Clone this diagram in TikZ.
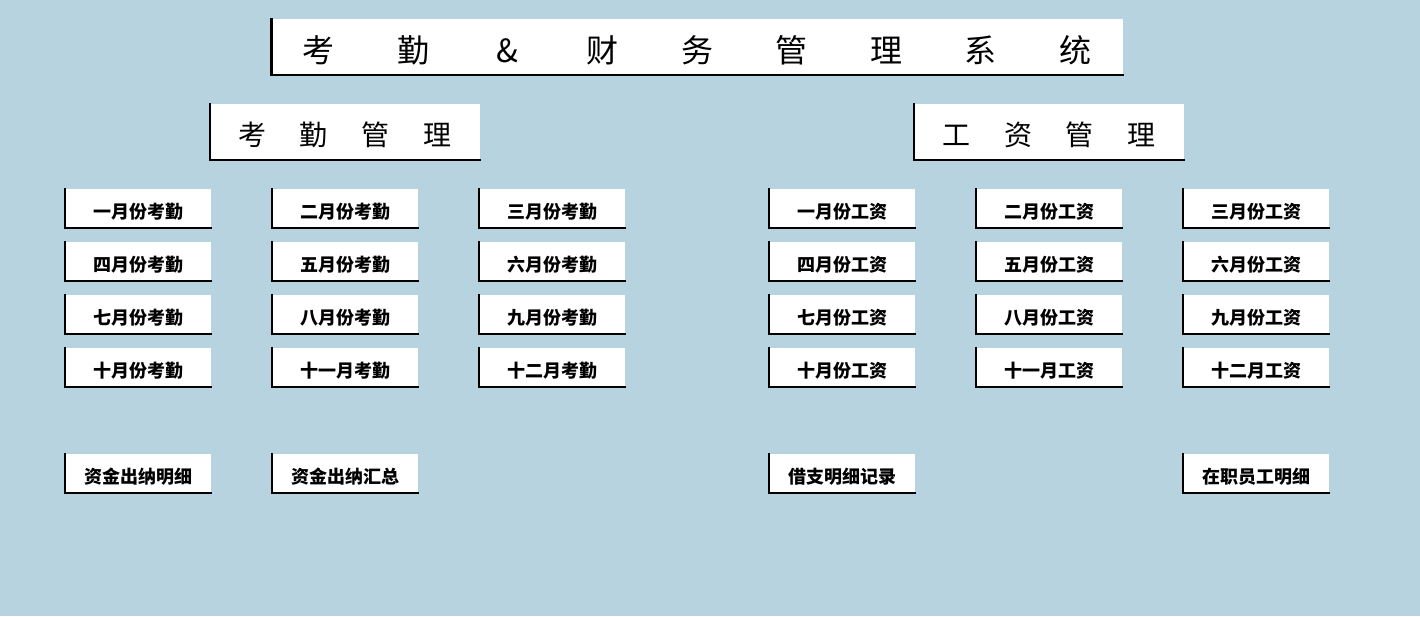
\documentclass[tikz,border=0pt]{standalone}
\usepackage{fontspec}
\newfontfamily\cjk{Noto Sans CJK SC}
\definecolor{bgblue}{RGB}{183,211,223}
\newcommand{\spreadchars}[2]{\def\spreadw{#1}\spreadloop#2\relax}
\def\spreadloop#1{\ifx#1\relax\else\makebox[\spreadw]{#1}\expandafter\spreadloop\fi}
\tikzset{
  card/.style={fill=white, draw=none, inner sep=0pt, outer sep=0pt, text=black},
  small/.style={card, minimum width=146pt, minimum height=39pt, text height=22.8pt, text depth=2.16pt, font=\cjk\bfseries\fontsize{18}{18}\selectfont},
  section/.style={card, minimum width=270pt, minimum height=56pt, text height=30.6pt, text depth=3.36pt, font=\cjk\fontsize{28}{28}\selectfont},
  titlebox/.style={card, minimum width=850pt, minimum height=56pt, text height=34.2pt, text depth=3.84pt, font=\cjk\fontsize{32}{32}\selectfont},
  edge/.style={line width=2.5pt, black, line cap=rect}
}
\newcommand{\lframe}[1]{\draw[edge] (#1.north west) -- (#1.south west) -- (#1.south east);}
\begin{document}
\begin{tikzpicture}[x=1pt,y=-1pt]
\fill[bgblue] (0,0) rectangle (1420,616);
\useasboundingbox (0,0) rectangle (1420,616);
% title
\node[titlebox] (title) at (697,47) {\spreadchars{94.6pt}{考勤\&财务管理系统}};
\lframe{title}
% sections
\node[section] (attend) at (345,132) {\spreadchars{62pt}{考勤管理}};
\lframe{attend}
\node[section] (salary) at (1049,132) {\spreadchars{62pt}{工资管理}};
\lframe{salary}
% attendance months
\node[small] (a1) at (138,208.5) {一月份考勤}; \lframe{a1}
\node[small] (a2) at (345,208.5) {二月份考勤}; \lframe{a2}
\node[small] (a3) at (552,208.5) {三月份考勤}; \lframe{a3}
\node[small] (a4) at (138,261.5) {四月份考勤}; \lframe{a4}
\node[small] (a5) at (345,261.5) {五月份考勤}; \lframe{a5}
\node[small] (a6) at (552,261.5) {六月份考勤}; \lframe{a6}
\node[small] (a7) at (138,314.5) {七月份考勤}; \lframe{a7}
\node[small] (a8) at (345,314.5) {八月份考勤}; \lframe{a8}
\node[small] (a9) at (552,314.5) {九月份考勤}; \lframe{a9}
\node[small] (a10) at (138,367.5) {十月份考勤}; \lframe{a10}
\node[small] (a11) at (345,367.5) {十一月考勤}; \lframe{a11}
\node[small] (a12) at (552,367.5) {十二月考勤}; \lframe{a12}
% salary months
\node[small] (s1) at (842,208.5) {一月份工资}; \lframe{s1}
\node[small] (s2) at (1049,208.5) {二月份工资}; \lframe{s2}
\node[small] (s3) at (1256,208.5) {三月份工资}; \lframe{s3}
\node[small] (s4) at (842,261.5) {四月份工资}; \lframe{s4}
\node[small] (s5) at (1049,261.5) {五月份工资}; \lframe{s5}
\node[small] (s6) at (1256,261.5) {六月份工资}; \lframe{s6}
\node[small] (s7) at (842,314.5) {七月份工资}; \lframe{s7}
\node[small] (s8) at (1049,314.5) {八月份工资}; \lframe{s8}
\node[small] (s9) at (1256,314.5) {九月份工资}; \lframe{s9}
\node[small] (s10) at (842,367.5) {十月份工资}; \lframe{s10}
\node[small] (s11) at (1049,367.5) {十一月工资}; \lframe{s11}
\node[small] (s12) at (1256,367.5) {十二月工资}; \lframe{s12}
% bottom row
\node[small] (b1) at (138,473.5) {资金出纳明细}; \lframe{b1}
\node[small] (b2) at (345,473.5) {资金出纳汇总}; \lframe{b2}
\node[small] (b3) at (842,473.5) {借支明细记录}; \lframe{b3}
\node[small] (b4) at (1256,473.5) {在职员工明细}; \lframe{b4}
\end{tikzpicture}
\end{document}
